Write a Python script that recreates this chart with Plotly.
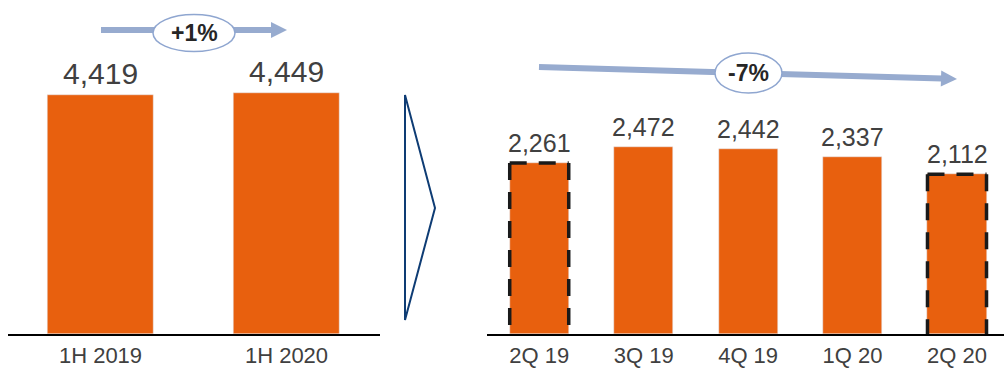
import plotly.graph_objects as go

# ---- data ----
half_labels = ["1H 2019", "1H 2020"]
half_values = [4419, 4449]
quarter_labels = ["2Q 19", "3Q 19", "4Q 19", "1Q 20", "2Q 20"]
quarter_values = [2261, 2472, 2442, 2337, 2112]
highlighted = ["2Q 19", "2Q 20"]
half_change = "+1%"
quarter_change = "-7%"

W, H = 1004, 368
MB = 34
PH = H - MB
BAR_COLOR = "#E8600E"
TEXT_COLOR = "#404040"
ARROW_COLOR = "#97ABCF"
FONT = "Liberation Sans, Arial, sans-serif"
BAR_W = 0.565


def px(x):
    return x / W


def py(y):
    return 1 - y / PH


fig = go.Figure()
fig.add_trace(go.Bar(x=half_labels, y=half_values, marker_color=BAR_COLOR,
                     width=BAR_W, xaxis="x", yaxis="y", hoverinfo="skip"))
fig.add_trace(go.Bar(x=quarter_labels, y=quarter_values, marker_color=BAR_COLOR,
                     width=BAR_W, xaxis="x2", yaxis="y2", hoverinfo="skip"))

annotations = []
for lab, v in zip(half_labels, half_values):
    annotations.append(dict(x=lab, y=v, xref="x", yref="y", text=f"{v:,}",
                            showarrow=False, yanchor="bottom", yshift=3,
                            font=dict(size=30, color=TEXT_COLOR, family=FONT)))
for lab, v in zip(quarter_labels, quarter_values):
    annotations.append(dict(x=lab, y=v, xref="x2", yref="y2", text=f"{v:,}",
                            showarrow=False, yanchor="bottom", yshift=4,
                            font=dict(size=25, color=TEXT_COLOR, family=FONT)))

shapes = []
# dashed outlines (three sides) on highlighted quarters
DASH = dict(color="#1a1a1a", width=3.5, dash="17px,12px")
for i, (lab, v) in enumerate(zip(quarter_labels, quarter_values)):
    if lab in highlighted:
        xl, xr = i - BAR_W / 2, i + BAR_W / 2
        for (ax0, ay0, ax1, ay1) in [(xl, v, xl, 0), (xl, v, xr, v), (xr, v, xr, 0)]:
            shapes.append(dict(type="line", xref="x2", yref="y2",
                               x0=ax0, y0=ay0, x1=ax1, y1=ay1, line=DASH))


def arrow(x0, y0, x1, y1, head_len=16, head_half=8, width=6):
    import math
    dx, dy = x1 - x0, y1 - y0
    L = math.hypot(dx, dy)
    ux, uy = dx / L, dy / L
    bx, by = x1 - ux * head_len, y1 - uy * head_len
    nx, ny = -uy, ux
    out = [dict(type="line", xref="paper", yref="paper",
                x0=px(x0), y0=py(y0), x1=px(bx + ux), y1=py(by + uy),
                line=dict(color=ARROW_COLOR, width=width))]
    path = (f"M {px(x1)},{py(y1)} L {px(bx + nx*head_half)},{py(by + ny*head_half)} "
            f"L {px(bx - nx*head_half)},{py(by - ny*head_half)} Z")
    out.append(dict(type="path", xref="paper", yref="paper", path=path,
                    fillcolor=ARROW_COLOR, line=dict(width=0)))
    return out


shapes += arrow(101, 30, 287, 30)
shapes += arrow(539, 67, 957, 79)

for cx, cy, rx, ry, txt in [(194, 33, 41, 18.5, half_change),
                            (748.5, 73, 33.5, 20, quarter_change)]:
    shapes.append(dict(type="circle", xref="paper", yref="paper",
                       x0=px(cx - rx), x1=px(cx + rx), y0=py(cy + ry), y1=py(cy - ry),
                       fillcolor="white", line=dict(color="#8FA6D0", width=1.5)))
    annotations.append(dict(x=px(cx), y=py(cy), xref="paper", yref="paper",
                            text=f"<b>{txt}</b>", showarrow=False,
                            xanchor="center", yanchor="middle",
                            font=dict(size=23, color="#262626", family=FONT)))

# chevron separator
shapes.append(dict(type="path", xref="paper", yref="paper",
                   path=f"M {px(405)},{py(95)} L {px(435)},{py(208)} L {px(405)},{py(320)} Z",
                   line=dict(color="#0E3C74", width=2), fillcolor="rgba(0,0,0,0)"))

axis_common = dict(showline=True, linecolor="#000000", linewidth=2, ticks="",
                   showgrid=False, zeroline=False, type="category",
                   ticklabelstandoff=1,
                   tickfont=dict(size=22, color=TEXT_COLOR, family=FONT))

fig.update_layout(
    width=W, height=H,
    margin=dict(l=0, r=0, t=0, b=MB, pad=0),
    paper_bgcolor="white", plot_bgcolor="white",
    showlegend=False, bargap=0,
    xaxis=dict(domain=[px(7.5), px(379.5)], range=[-0.5, 1.5], anchor="y", **axis_common),
    yaxis=dict(domain=[0, 1], range=[0, 6175], visible=False, anchor="x"),
    xaxis2=dict(domain=[px(487), 1], range=[-0.5, 4.45], anchor="y2", **axis_common),
    yaxis2=dict(domain=[0, 1], range=[0, 4416], visible=False, anchor="x2"),
    shapes=shapes, annotations=annotations,
)
for ax in ("xaxis", "xaxis2"):
    fig.layout[ax].automargin = False

fig.write_html("out.html", config={"displayModeBar": False},
               post_script="document.body.style.margin='0';document.body.style.overflow='hidden';")
